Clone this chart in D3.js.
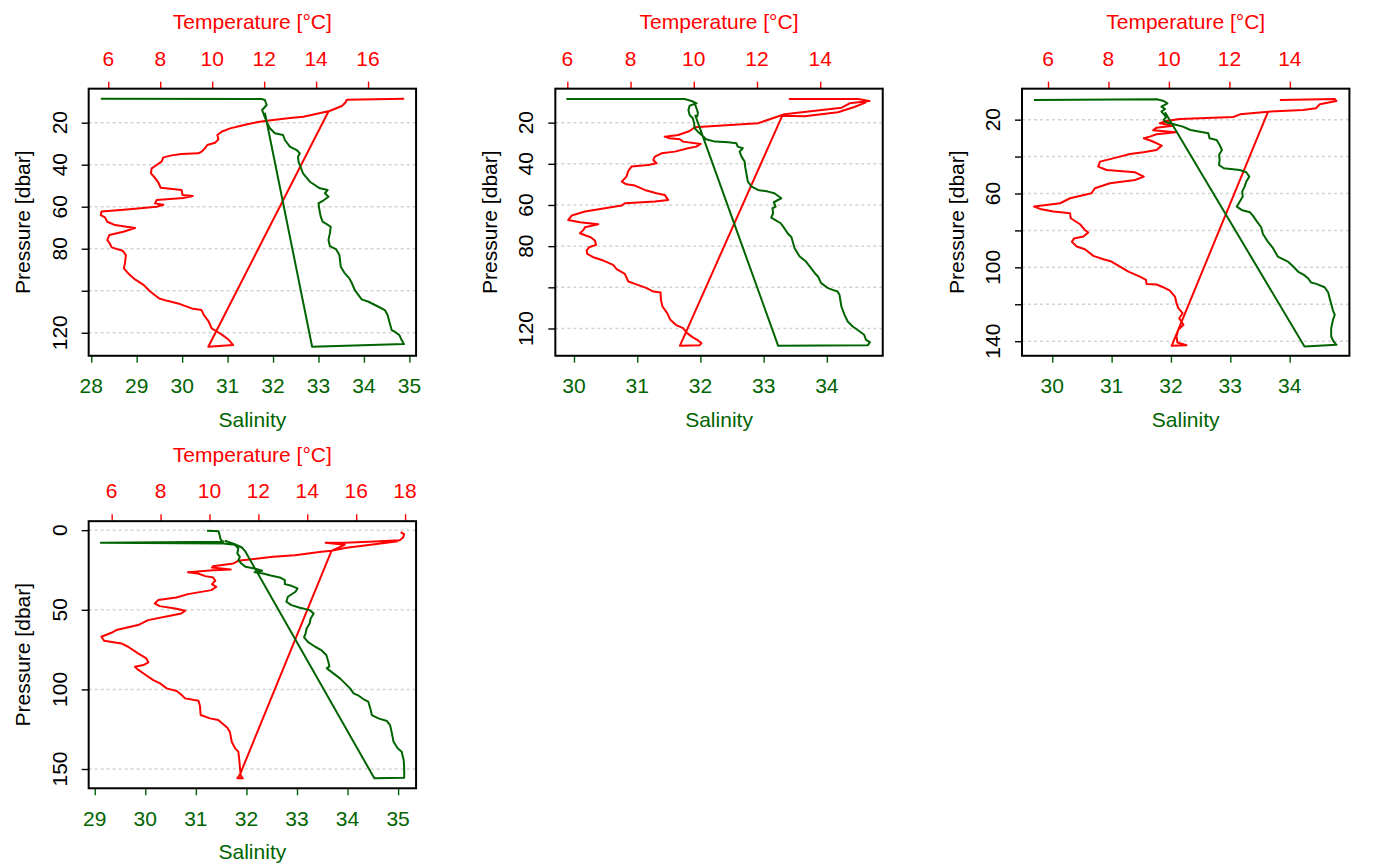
<!DOCTYPE html>
<html><head><meta charset="utf-8">
<script src="https://cdn.jsdelivr.net/npm/d3@7"></script>
<style>
html,body{margin:0;padding:0;background:#fff;}
svg{display:block;font-family:"Liberation Sans",Arial,Helvetica,sans-serif;}
</style></head><body>
<svg id="chart" width="1400" height="865"></svg>
<script>
// ---------- Data: [value, pressure] pairs ----------
const cast1Temperature = [[17.39,8.57],[15.18,9.05],[15.11,10.79],[14.99,12.06],[14.47,14.60],[13.51,17.14],[13.00,17.78],[12.10,19.05],[11.71,19.84],[11.39,20.63],[11.07,21.59],[10.69,22.70],[10.36,24.29],[10.20,25.87],[10.24,27.94],[10.11,29.52],[9.81,30.63],[9.72,32.22],[9.59,33.81],[9.47,34.60],[8.82,34.92],[8.44,35.56],[8.12,36.51],[8.05,38.57],[7.86,40.16],[7.67,41.75],[7.64,44.13],[7.76,45.71],[7.93,48.57],[8.02,50.95],[8.82,52.06],[8.86,54.44],[9.25,54.92],[8.89,55.87],[7.86,56.83],[7.80,58.41],[8.12,59.05],[7.86,60.00],[6.71,61.27],[5.74,62.22],[5.71,63.97],[5.87,65.08],[5.96,67.14],[6.26,68.73],[7.03,70.16],[6.58,71.90],[6.04,73.49],[5.96,75.87],[6.04,77.14],[6.13,79.37],[6.55,80.95],[6.68,83.02],[6.64,86.98],[6.60,89.37],[6.77,91.75],[7.03,94.60],[7.37,97.30],[7.58,100.0],[7.96,103.65],[8.31,104.92],[8.76,106.35],[9.21,108.41],[9.59,109.21],[9.68,111.59],[9.85,114.29],[9.98,117.94],[10.20,119.52],[10.40,121.11],[10.62,123.17],[10.81,125.87],[9.85,126.67],[14.47,14.76],[14.99,12.1],[15.18,9.6]];
const cast1Salinity = [[28.21,8.57],[31.57,8.73],[31.75,8.73],[31.82,9.20],[31.86,11.59],[31.76,13.97],[31.80,16.35],[31.86,19.54],[31.93,22.68],[32.04,25.06],[32.22,25.87],[32.26,28.25],[32.37,31.44],[32.52,33.02],[32.59,34.59],[32.55,36.21],[32.56,38.59],[32.66,44.11],[32.81,48.11],[33.03,51.25],[33.20,52.06],[33.14,53.63],[33.22,55.25],[33.12,56.82],[33.00,58.41],[33.02,61.59],[33.05,64.76],[33.09,67.14],[33.18,68.25],[33.27,69.52],[33.25,72.70],[33.22,75.87],[33.25,78.73],[33.39,80.32],[33.46,83.02],[33.49,88.57],[33.58,91.75],[33.68,94.13],[33.73,96.19],[33.80,99.68],[33.88,102.06],[33.95,104.13],[34.10,105.24],[34.32,107.62],[34.46,109.21],[34.52,111.59],[34.56,114.76],[34.61,118.73],[34.68,119.52],[34.78,121.11],[34.83,123.49],[34.88,125.40],[32.86,126.67],[31.82,15.24]];

const cast2Temperature = [[13.01,8.51],[15.19,8.51],[15.56,9.48],[14.93,10.61],[14.68,12.72],[13.77,14.34],[12.87,15.95],[12.03,20.32],[10.03,22.27],[9.87,24.05],[9.51,25.99],[9.08,26.80],[9.24,27.61],[9.56,28.09],[9.66,29.22],[10.22,30.36],[10.08,31.65],[9.82,32.46],[9.40,34.08],[8.98,34.89],[8.77,36.50],[8.72,38.12],[8.82,39.74],[8.56,40.55],[8.03,41.36],[7.93,43.46],[7.87,46.21],[7.72,48.64],[7.87,49.94],[8.14,50.58],[8.45,52.69],[8.82,54.30],[9.08,55.11],[9.19,57.54],[8.77,58.35],[7.82,59.16],[7.72,60.29],[6.56,63.20],[6.14,65.15],[6.03,67.25],[6.40,68.38],[6.98,69.35],[6.56,70.81],[6.51,72.10],[6.40,73.72],[6.56,74.69],[6.74,75.66],[6.87,77.28],[6.91,79.39],[6.69,80.52],[6.61,82.14],[6.63,83.76],[6.82,85.37],[7.14,86.99],[7.45,89.09],[7.56,91.20],[7.82,93.46],[7.93,97.18],[8.14,98.32],[8.51,100.42],[8.72,102.04],[8.95,102.52],[8.96,106.08],[9.01,109.32],[9.16,112.56],[9.26,115.79],[9.43,118.22],[9.66,119.84],[9.79,122.27],[9.96,124.21],[10.11,125.50],[10.24,127.12],[10.19,128.09],[9.56,128.41],[12.80,16.60],[13.51,16.93],[14.56,14.98],[15.08,12.39],[15.45,10.13]];
const cast2Salinity = [[29.88,8.51],[31.75,8.51],[31.86,9.48],[31.94,10.61],[31.83,11.75],[31.81,13.85],[31.83,16.28],[31.88,17.90],[31.90,20.32],[31.91,22.75],[31.96,24.37],[32.02,25.99],[32.09,28.09],[32.23,29.22],[32.44,29.55],[32.57,30.03],[32.59,31.65],[32.67,32.46],[32.62,34.08],[32.65,36.50],[32.70,38.93],[32.71,41.84],[32.73,45.08],[32.75,48.64],[32.81,51.07],[32.91,52.69],[33.07,53.50],[33.17,54.30],[33.28,56.73],[33.22,57.70],[33.16,58.67],[33.19,60.78],[33.14,61.59],[33.15,64.01],[33.12,66.12],[33.18,67.25],[33.27,68.87],[33.31,70.49],[33.38,73.72],[33.44,75.66],[33.49,81.0],[33.57,85.05],[33.67,87.48],[33.75,90.71],[33.81,93.14],[33.86,94.76],[33.91,97.99],[34.02,100.42],[34.09,101.23],[34.17,102.04],[34.20,103.66],[34.23,109.32],[34.28,113.37],[34.33,116.60],[34.41,119.03],[34.52,121.46],[34.59,123.07],[34.62,125.50],[34.68,126.63],[34.65,128.09],[33.23,128.41],[31.92,16.60],[31.95,16.93],[31.96,14.98],[31.93,12.39],[31.90,10.13]];

const cast3Temperature = [[13.67,9.35],[15.49,8.81],[15.54,9.90],[14.99,11.70],[14.86,13.87],[14.44,14.77],[13.28,15.67],[12.35,17.11],[12.13,18.56],[10.36,19.64],[9.92,20.72],[9.70,21.98],[10.14,23.25],[9.59,24.33],[9.48,25.77],[10.23,26.86],[9.59,27.94],[9.37,29.20],[9.17,30.10],[9.43,31.55],[9.76,34.07],[9.59,36.42],[9.15,37.68],[8.71,38.59],[8.38,40.03],[7.72,42.74],[7.66,45.44],[7.94,47.25],[8.88,48.51],[9.17,50.86],[8.88,52.66],[8.05,54.46],[7.55,57.17],[7.44,59.88],[6.73,62.58],[6.40,65.29],[5.54,67.10],[5.74,68.36],[6.18,69.80],[6.73,70.70],[6.75,73.41],[7.06,76.66],[7.22,79.73],[7.33,81.17],[7.17,83.33],[6.86,84.42],[6.79,86.22],[6.95,88.75],[7.22,90.19],[7.50,93.80],[7.83,95.60],[8.10,96.87],[8.38,99.57],[8.66,102.28],[9.04,104.99],[9.24,106.79],[9.26,108.96],[9.59,109.32],[9.81,110.76],[10.03,112.57],[10.20,115.81],[10.25,119.42],[10.31,122.13],[10.45,124.84],[10.34,127.54],[10.48,131.15],[10.31,133.86],[10.25,137.47],[10.28,140.71],[10.58,142.16],[10.09,142.52],[13.28,15.67]];
const cast3Salinity = [[29.69,9.35],[31.76,8.99],[31.88,9.90],[31.94,11.16],[31.84,12.96],[31.90,14.23],[31.84,15.67],[31.88,17.11],[31.92,18.56],[31.88,20.18],[31.92,21.44],[32.05,22.53],[32.20,23.79],[32.33,25.59],[32.49,26.50],[32.63,27.40],[32.65,30.10],[32.77,31.01],[32.82,33.71],[32.86,36.42],[32.81,39.13],[32.82,41.83],[32.81,44.54],[32.89,46.34],[33.16,47.25],[33.27,48.51],[33.32,50.86],[33.27,53.56],[33.24,56.27],[33.20,58.98],[33.21,61.68],[33.16,64.39],[33.11,67.10],[33.19,68.90],[33.33,70.16],[33.38,71.97],[33.45,75.21],[33.52,78.28],[33.55,81.89],[33.62,85.50],[33.72,89.65],[33.80,94.16],[33.97,96.87],[34.06,99.57],[34.14,102.28],[34.24,104.09],[34.31,105.89],[34.36,108.24],[34.45,108.96],[34.59,110.76],[34.65,113.65],[34.67,116.18],[34.70,119.78],[34.73,123.39],[34.76,125.74],[34.73,128.44],[34.70,132.95],[34.70,137.47],[34.74,140.17],[34.79,141.98],[34.25,142.88],[31.90,16.0]];

const cast4Temperature = [[17.82,1.26],[17.96,2.51],[17.92,4.60],[17.78,6.28],[16.76,7.11],[15.53,7.95],[14.75,7.95],[15.53,9.21],[15.23,11.30],[14.99,12.97],[14.58,13.60],[13.49,15.69],[12.60,16.74],[11.17,19.25],[10.98,20.92],[10.15,22.59],[10.10,23.43],[10.87,24.69],[10.15,25.10],[9.12,26.36],[9.53,27.20],[9.83,28.87],[10.15,29.71],[10.24,31.80],[10.10,33.89],[10.28,35.56],[10.08,37.66],[9.12,40.17],[8.65,42.26],[7.90,43.93],[7.76,46.03],[7.96,47.70],[8.60,49.16],[9.01,50.63],[8.85,52.30],[8.44,53.56],[7.49,56.49],[7.08,59.62],[6.19,62.76],[5.99,64.44],[5.58,66.95],[5.69,69.46],[6.40,71.13],[6.67,73.22],[7.08,77.41],[7.42,80.54],[7.50,83.05],[7.30,84.73],[6.95,85.77],[7.05,87.24],[7.32,90.17],[7.70,94.14],[8.00,96.44],[8.25,99.37],[8.66,101.05],[8.86,103.56],[9.00,105.65],[9.55,107.11],[9.61,110.25],[9.64,116.11],[10.02,118.20],[10.36,119.25],[10.54,121.55],[10.73,124.06],[10.84,126.99],[10.91,132.85],[11.05,137.03],[11.18,139.12],[11.22,144.35],[11.25,149.58],[11.28,154.18],[11.36,155.86],[11.14,155.86],[11.25,153.35],[14.99,12.97],[15.60,11.09],[16.76,8.79],[17.71,6.90]];
const cast4Salinity = [[31.22,0.42],[31.45,0.63],[31.47,3.14],[31.49,5.86],[31.54,7.32],[29.12,7.95],[31.54,8.37],[31.77,9.21],[31.84,11.30],[31.82,14.64],[31.87,16.74],[31.84,18.83],[31.90,20.92],[31.98,23.01],[32.16,24.06],[32.31,25.52],[32.16,26.36],[32.33,27.20],[32.48,28.45],[32.66,29.71],[32.76,31.38],[32.76,33.89],[32.89,34.94],[33.01,36.61],[32.97,38.70],[32.82,41.84],[32.79,44.98],[32.89,47.07],[33.04,48.54],[33.25,50.21],[33.33,52.30],[33.27,55.44],[33.25,58.58],[33.19,61.72],[33.17,64.85],[33.14,67.36],[33.22,70.29],[33.36,73.22],[33.48,75.31],[33.58,78.45],[33.62,82.64],[33.64,85.56],[33.59,86.82],[33.72,89.96],[33.85,93.10],[33.95,96.23],[34.05,99.37],[34.12,102.51],[34.22,103.97],[34.31,106.07],[34.41,107.74],[34.45,111.92],[34.48,116.11],[34.61,118.20],[34.78,119.87],[34.84,122.38],[34.87,126.57],[34.91,132.85],[34.99,137.03],[35.07,139.12],[35.11,144.35],[35.12,149.58],[35.12,155.44],[34.53,155.86],[31.97,12.97],[31.91,10.88],[31.77,8.79],[31.57,6.69]];

// ---------- Axis limits and ticks ----------
const cast1PressureLimits = [3.81, 130.95], cast1TemperatureLimits = [5.245, 17.848], cast1SalinityLimits = [27.943, 35.147];
const cast2PressureLimits = [3.50, 133.25], cast2TemperatureLimits = [5.621, 15.978], cast2SalinityLimits = [29.705, 34.884];
const cast3PressureLimits = [3.22, 147.9], cast3TemperatureLimits = [5.14, 15.97], cast3SalinityLimits = [29.49, 35.007];
const cast4PressureLimits = [-5.65, 162.1], cast4TemperatureLimits = [5.059, 18.45], cast4SalinityLimits = [28.88, 35.355];

const cast1PressureTicks = [20, 40, 60, 80, 100, 120], cast1PressureLabels = ["20","40","60","80","","120"];
const cast2PressureTicks = [20, 40, 60, 80, 100, 120], cast2PressureLabels = ["20","40","60","80","","120"];
const cast3PressureTicks = [20, 40, 60, 80, 100, 120, 140], cast3PressureLabels = ["20","","60","","100","","140"];
const cast4PressureTicks = [0, 50, 100, 150], cast4PressureLabels = ["0","50","100","150"];

const cast1TemperatureTicks = [6, 8, 10, 12, 14, 16];
const cast2TemperatureTicks = [6, 8, 10, 12, 14];
const cast3TemperatureTicks = [6, 8, 10, 12, 14];
const cast4TemperatureTicks = [6, 8, 10, 12, 14, 16, 18];

const cast1SalinityTicks = [28, 29, 30, 31, 32, 33, 34, 35];
const cast2SalinityTicks = [30, 31, 32, 33, 34];
const cast3SalinityTicks = [30, 31, 32, 33, 34];
const cast4SalinityTicks = [29, 30, 31, 32, 33, 34, 35];

const temperatureTitle = "Temperature [°C]", salinityTitle = "Salinity", pressureTitle = "Pressure [dbar]";

const panels = [
  {temp: cast1Temperature, sal: cast1Salinity, pLim: cast1PressureLimits, tLim: cast1TemperatureLimits, sLim: cast1SalinityLimits, pTicks: cast1PressureTicks, pLabels: cast1PressureLabels, tTicks: cast1TemperatureTicks, sTicks: cast1SalinityTicks},
  {temp: cast2Temperature, sal: cast2Salinity, pLim: cast2PressureLimits, tLim: cast2TemperatureLimits, sLim: cast2SalinityLimits, pTicks: cast2PressureTicks, pLabels: cast2PressureLabels, tTicks: cast2TemperatureTicks, sTicks: cast2SalinityTicks},
  {temp: cast3Temperature, sal: cast3Salinity, pLim: cast3PressureLimits, tLim: cast3TemperatureLimits, sLim: cast3SalinityLimits, pTicks: cast3PressureTicks, pLabels: cast3PressureLabels, tTicks: cast3TemperatureTicks, sTicks: cast3SalinityTicks},
  {temp: cast4Temperature, sal: cast4Salinity, pLim: cast4PressureLimits, tLim: cast4TemperatureLimits, sLim: cast4SalinityLimits, pTicks: cast4PressureTicks, pLabels: cast4PressureLabels, tTicks: cast4TemperatureTicks, sTicks: cast4SalinityTicks}
];

// ---------- Drawing ----------
const svg = d3.select('#chart');
const W = 1400, H = 865, cellW = W / 3, cellH = H / 2;
const m = {left: 88.67, top: 88.67};
const pw = 327.4, ph = 267.1;
const RED = '#ff0000', GREEN = '#006400';
const FS = 21;

panels.forEach((p, i) => {
  const col = i % 3, row = Math.floor(i / 3);
  const g = svg.append('g').attr('transform', `translate(${col * cellW + m.left},${row * cellH + m.top})`);
  const y = d3.scaleLinear().domain(p.pLim).range([0, ph]);
  const xT = d3.scaleLinear().domain(p.tLim).range([0, pw]);
  const xS = d3.scaleLinear().domain(p.sLim).range([0, pw]);

  // grid
  g.append('g').selectAll('line').data(p.pTicks).join('line')
    .attr('x1', 0).attr('x2', pw)
    .attr('y1', d => y(d)).attr('y2', d => y(d))
    .attr('stroke', '#d3d3d3').attr('stroke-width', 1.5).attr('stroke-dasharray', '3,3');

  const clipId = 'clip' + i;
  g.append('clipPath').attr('id', clipId).append('rect').attr('width', pw).attr('height', ph);

  const lineT = d3.line().x(d => xT(d[0])).y(d => y(d[1]));
  const lineS = d3.line().x(d => xS(d[0])).y(d => y(d[1]));
  const lines = g.append('g').attr('clip-path', `url(#${clipId})`);
  lines.append('path').datum(p.temp).attr('d', lineT)
    .attr('fill', 'none').attr('stroke', RED).attr('stroke-width', 2).attr('stroke-linejoin', 'round');
  lines.append('path').datum(p.sal).attr('d', lineS)
    .attr('fill', 'none').attr('stroke', GREEN).attr('stroke-width', 2).attr('stroke-linejoin', 'round');

  // top axis (temperature)
  g.append('g').call(d3.axisTop(xT).tickValues(p.tTicks).tickSize(7).tickFormat(''))
    .call(a => { a.select('.domain').remove(); a.selectAll('line').attr('stroke', RED).attr('stroke-width', 1.4); });
  g.append('g').selectAll('text').data(p.tTicks).join('text')
    .attr('x', d => xT(d)).attr('y', -23).attr('text-anchor', 'middle')
    .attr('fill', RED).attr('font-size', FS).text(d => d);
  g.append('text').attr('x', pw / 2).attr('y', -59.5).attr('text-anchor', 'middle')
    .attr('fill', RED).attr('font-size', FS).text(temperatureTitle);

  // bottom axis (salinity)
  g.append('g').attr('transform', `translate(0,${ph})`)
    .call(d3.axisBottom(xS).tickValues(p.sTicks).tickSize(7).tickFormat(''))
    .call(a => { a.select('.domain').remove(); a.selectAll('line').attr('stroke', GREEN).attr('stroke-width', 1.4); });
  g.append('g').selectAll('text').data(p.sTicks).join('text')
    .attr('x', d => xS(d)).attr('y', ph + 37.5).attr('text-anchor', 'middle')
    .attr('fill', GREEN).attr('font-size', FS).text(d => d);
  g.append('text').attr('x', pw / 2).attr('y', ph + 71).attr('text-anchor', 'middle')
    .attr('fill', GREEN).attr('font-size', FS).text(salinityTitle);

  // left axis (pressure)
  g.append('g').call(d3.axisLeft(y).tickValues(p.pTicks).tickSize(7).tickFormat(''))
    .call(a => { a.select('.domain').remove(); a.selectAll('line').attr('stroke', '#000').attr('stroke-width', 1.4); });
  g.append('g').selectAll('text').data(p.pTicks.map((t, k) => [t, p.pLabels[k]])).join('text')
    .attr('transform', d => `translate(-22,${y(d[0])}) rotate(-90)`).attr('text-anchor', 'middle')
    .attr('fill', '#000').attr('font-size', FS).text(d => d[1]);
  g.append('text').attr('transform', `translate(-58.5,${ph / 2}) rotate(-90)`).attr('text-anchor', 'middle')
    .attr('fill', '#000').attr('font-size', FS).text(pressureTitle);

  // box
  g.append('rect').attr('width', pw).attr('height', ph)
    .attr('fill', 'none').attr('stroke', '#000').attr('stroke-width', 2);
});
</script>
</body></html>
